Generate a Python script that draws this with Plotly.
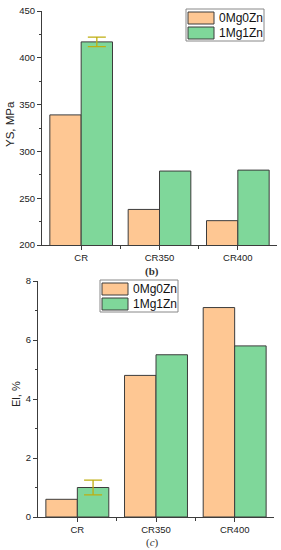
import plotly.graph_objects as go

categories = ["CR", "CR350", "CR400"]
series_names = ["0Mg0Zn", "1Mg1Zn"]
ys_0mg0zn = [339, 238, 226]
ys_1mg1zn = [417, 279, 280]
ys_1mg1zn_err = [5]          # error bar only on CR
el_0mg0zn = [0.6, 4.8, 7.1]
el_1mg1zn = [1.0, 5.5, 5.8]
el_1mg1zn_err = [0.25]       # error bar only on CR
ys_ticks = [200, 250, 300, 350, 400, 450]
el_ticks = [0, 2, 4, 6, 8]

W, H = 281, 550
ORANGE = "#FEC793"
GREEN = "#7FD79A"
EDGE = "#3c3c3c"
ERRC = "#BFAE10"
FONT = "Liberation Sans, Arial, sans-serif"

idx = list(range(len(categories)))

fig = go.Figure()

def bars(vals, name, color, xa, ya, err=None):
    kw = {}
    if err is not None:
        kw["error_y"] = dict(type="data", array=err, color=ERRC, thickness=1.3, width=9, visible=True)
    fig.add_trace(go.Bar(x=idx, y=vals, name=name, marker=dict(color=color, line=dict(color=EDGE, width=1)),
                         xaxis=xa, yaxis=ya, showlegend=False, **kw))

bars(ys_0mg0zn, series_names[0], ORANGE, "x", "y")
bars(ys_1mg1zn, series_names[1], GREEN, "x", "y", ys_1mg1zn_err)
bars(el_0mg0zn, series_names[0], ORANGE, "x2", "y2")
bars(el_1mg1zn, series_names[1], GREEN, "x2", "y2", el_1mg1zn_err)

def px(x):
    return x / W

def py(y):
    return 1 - y / H

axis_common = dict(showline=True, linecolor=EDGE, linewidth=1, showgrid=False, zeroline=False,
                   automargin=False,
                   ticks="outside", ticklen=4, tickcolor=EDGE, tickwidth=1,
                   tickfont=dict(family=FONT, size=9.5, color="#222"))

xcommon = dict(axis_common, range=[-0.5, 2.5], tickmode="array", tickvals=idx, ticktext=categories,
               minor=dict(tickmode="array", tickvals=[0.5, 1.5], ticks="outside", ticklen=3, tickcolor=EDGE))

fig.update_layout(
    template="none",
    width=W, height=H, margin=dict(l=0, r=0, t=0, b=0, autoexpand=False),
    paper_bgcolor="white", plot_bgcolor="white",
    barmode="group", bargap=0.2, bargroupgap=0,
    hovermode=False,
    xaxis=dict(xcommon, domain=[px(42), px(277)], anchor="y"),
    yaxis=dict(axis_common, domain=[py(245), py(11)], range=[200, 450], tickvals=ys_ticks, anchor="x",
               minor=dict(dtick=25, ticks="outside", ticklen=2, tickcolor=EDGE)),
    xaxis2=dict(xcommon, domain=[px(38), px(274)], anchor="y2"),
    yaxis2=dict(axis_common, domain=[py(517), py(281)], range=[0, 8], tickvals=el_ticks, anchor="x2",
                minor=dict(dtick=1, ticks="outside", ticklen=2, tickcolor=EDGE)),
)

ann = []
shapes = []

def text(t, x, y, size, family=FONT, angle=0, xanchor="center", color="#222"):
    ann.append(dict(text=t, x=px(x), y=py(y), xref="paper", yref="paper", textangle=angle,
                    xanchor=xanchor, yanchor="middle", showarrow=False,
                    font=dict(family=family, size=size, color=color)))

SERIF = "Liberation Serif, Times New Roman, serif"
# axis titles
text("YS, MPa", 10, 124, 11.5, angle=-90)
text("El, %", 16, 394, 11, angle=-90)
# captions
text("<b>(b)</b>", 152, 271, 11, family=SERIF, color="#333")
text("(<i>c</i>)", 152, 542, 11, family=SERIF, color="#333")

# custom legends
def legend(x0, y0, x1, y1):
    shapes.append(dict(type="rect", xref="paper", yref="paper", x0=px(x0), x1=px(x1), y0=py(y1), y1=py(y0),
                       line=dict(color="#888", width=1), fillcolor="white", layer="above"))
    rows = [(ORANGE, series_names[0], y0 + 3), (GREEN, series_names[1], y0 + 18)]
    for col, name, ry in rows:
        shapes.append(dict(type="rect", xref="paper", yref="paper", x0=px(x0 + 2), x1=px(x0 + 28),
                           y0=py(ry + 12), y1=py(ry), fillcolor=col, line=dict(color=EDGE, width=1),
                           layer="above"))
        text(name, x0 + 31, ry + 6, 12, xanchor="left", color="#111")

legend(186, 9, 264, 41)
legend(100, 280, 178, 312)

fig.update_layout(annotations=ann, shapes=shapes)
fig.write_html("out.html", config={"displayModeBar": False, "staticPlot": True},
               post_script="document.body.style.margin='0';document.body.style.overflow='hidden';")
